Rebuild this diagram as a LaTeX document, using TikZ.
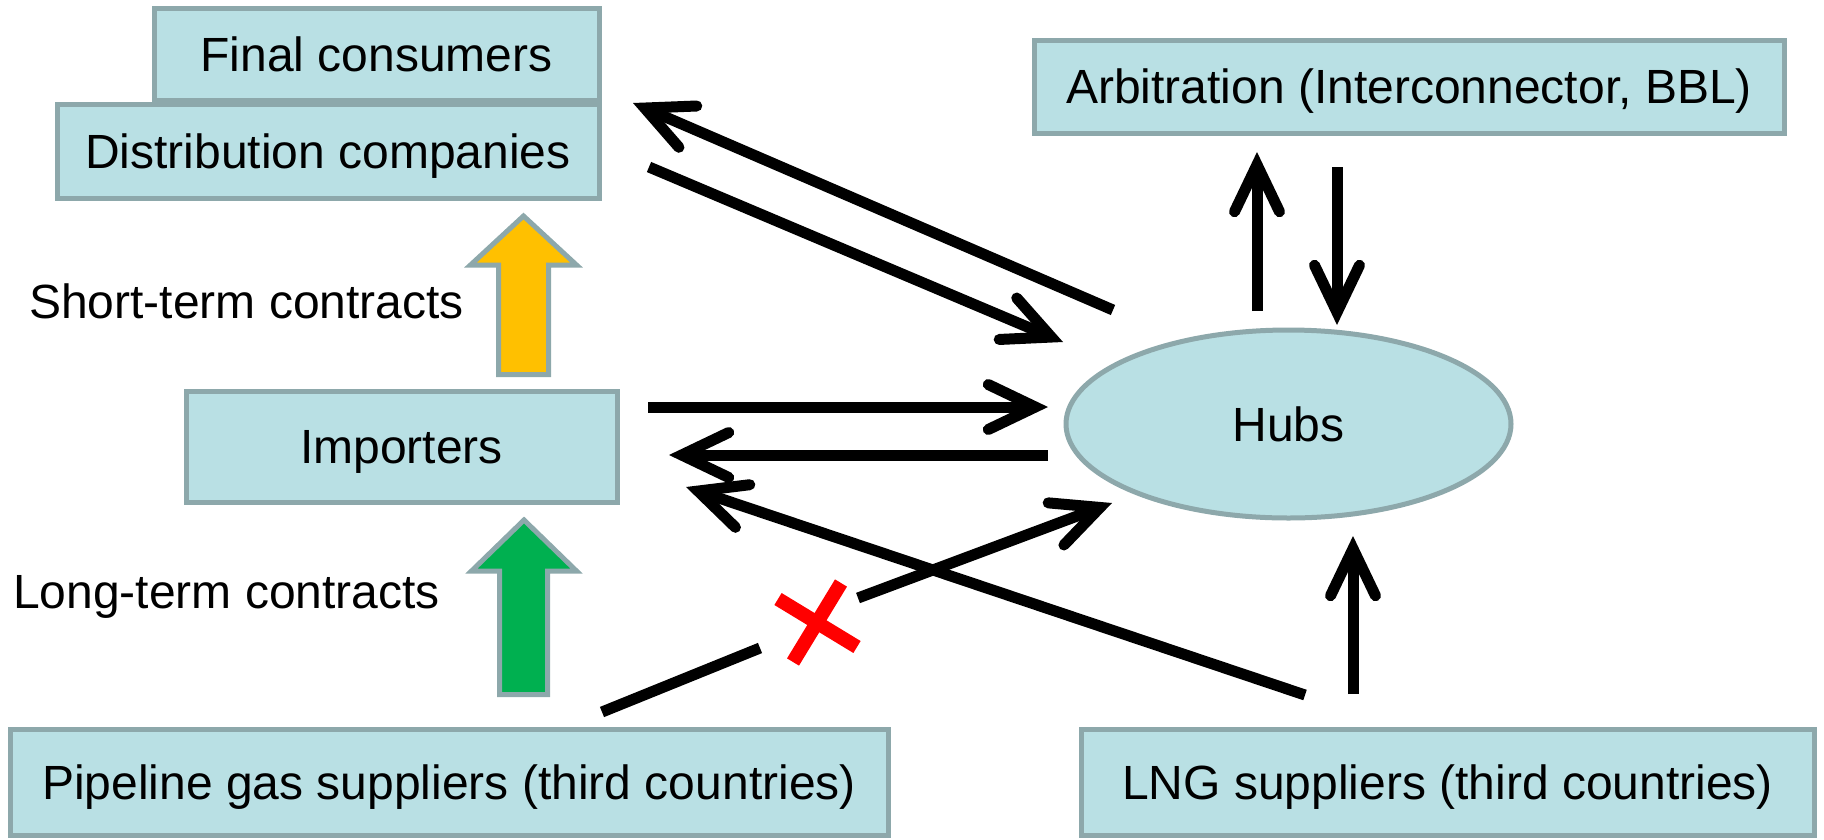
\documentclass[tikz,border=0pt]{standalone}
\usepackage{fontspec}
\setmainfont{Liberation Sans}
\usetikzlibrary{arrows.meta,shapes.geometric}
\definecolor{boxfill}{RGB}{185,224,228}
\definecolor{boxline}{RGB}{141,168,171}
\definecolor{ygold}{RGB}{255,192,0}
\definecolor{ggreen}{RGB}{0,176,80}
\definecolor{xred}{RGB}{255,0,0}
\begin{document}
\begin{tikzpicture}[x=1pt,y=-1pt,
  box/.style={draw=boxline, fill=boxfill, line width=5pt, inner sep=0pt,
    text height=34.4pt, text depth=0pt, font=\fontsize{48}{57}\selectfont},
  lbl/.style={inner sep=0pt, anchor=base west, font=\fontsize{48}{57}\selectfont},
  conn/.style={line width=11pt,
    -{Straight Barb[length=47pt,width=45pt,line join=miter,line cap=round]}},
  bare/.style={line width=11pt},
  blockarrow/.style={draw=boxline, line width=5pt, line join=miter},
  cross/.style={draw=xred, line width=14pt}
]
\useasboundingbox (0,0) rectangle (1824,839);

% boxes
\node[box, minimum width=445pt, minimum height=92pt] (final) at (376.5,54) {Final consumers};
\node[box, minimum width=542pt, minimum height=94pt] (dist) at (328,151) {Distribution companies};
\node[box, minimum width=750pt, minimum height=93pt] (arb) at (1409,86.5) {Arbitration (Interconnector, BBL)};
\node[box, minimum width=431pt, minimum height=111pt] (imp) at (401.5,446.5) {Importers};
\node[box, minimum width=878pt, minimum height=106pt] (pipe) at (449,782) {Pipeline gas suppliers (third countries)};
\node[box, minimum width=733pt, minimum height=106pt] (lng) at (1447.5,782) {LNG suppliers (third countries)};
\node[box, ellipse, minimum width=445pt, minimum height=188pt] (hubs) at (1288.5,424) {Hubs};

% labels
\node[lbl] (st) at (29,318) {Short-term contracts};
\node[lbl] (lt) at (13,608) {Long-term contracts};

% block arrows
\draw[blockarrow, fill=ygold] (498.5,374.5) -- (498.5,265) -- (470.5,265) -- (523.5,216)
  -- (576.5,265) -- (548.5,265) -- (548.5,374.5) -- cycle;
\draw[blockarrow, fill=ggreen] (499.5,694.5) -- (499.5,571) -- (471.5,571) -- (524,520)
  -- (576.5,571) -- (547.5,571) -- (547.5,694.5) -- cycle;

% connector end points
\coordinate (h2d) at (1113,310);
\coordinate (d2hend) at (633,103);
\coordinate (d2h) at (649,167);
\coordinate (d2hto) at (1063,342);
\coordinate (i2h) at (648,407);
\coordinate (i2hto) at (1048,407);
\coordinate (h2i) at (1048,455);
\coordinate (h2ito) at (669,455);
\coordinate (l2i) at (1305,695);
\coordinate (l2ito) at (686,487);
\coordinate (p2h) at (602,712);
\coordinate (p2hbreakA) at (760,648);
\coordinate (p2hbreakB) at (858,598);
\coordinate (p2hto) at (1112,503);
\coordinate (h2a) at (1257,311);
\coordinate (h2ato) at (1257,152);
\coordinate (a2h) at (1337,167);
\coordinate (a2hto) at (1337,325);
\coordinate (l2h) at (1353,694);
\coordinate (l2hto) at (1353,536);

% connectors
\draw[conn] (h2d) -- (d2hend);
\draw[conn] (d2h) -- (d2hto);
\draw[conn] (i2h) -- (i2hto);
\draw[conn] (h2i) -- (h2ito);
\draw[conn] (l2i) -- (l2ito);
\draw[bare] (p2h) -- (p2hbreakA);
\draw[conn] (p2hbreakB) -- (p2hto);
\draw[conn] (h2a) -- (h2ato);
\draw[conn] (a2h) -- (a2hto);
\draw[conn] (l2h) -- (l2hto);

% red cross
\coordinate (xa1) at (778,599);
\coordinate (xa2) at (857,647);
\coordinate (xb1) at (841,583);
\coordinate (xb2) at (793,662);
\draw[cross] (xa1) -- (xa2);
\draw[cross] (xb1) -- (xb2);
\end{tikzpicture}
\end{document}
